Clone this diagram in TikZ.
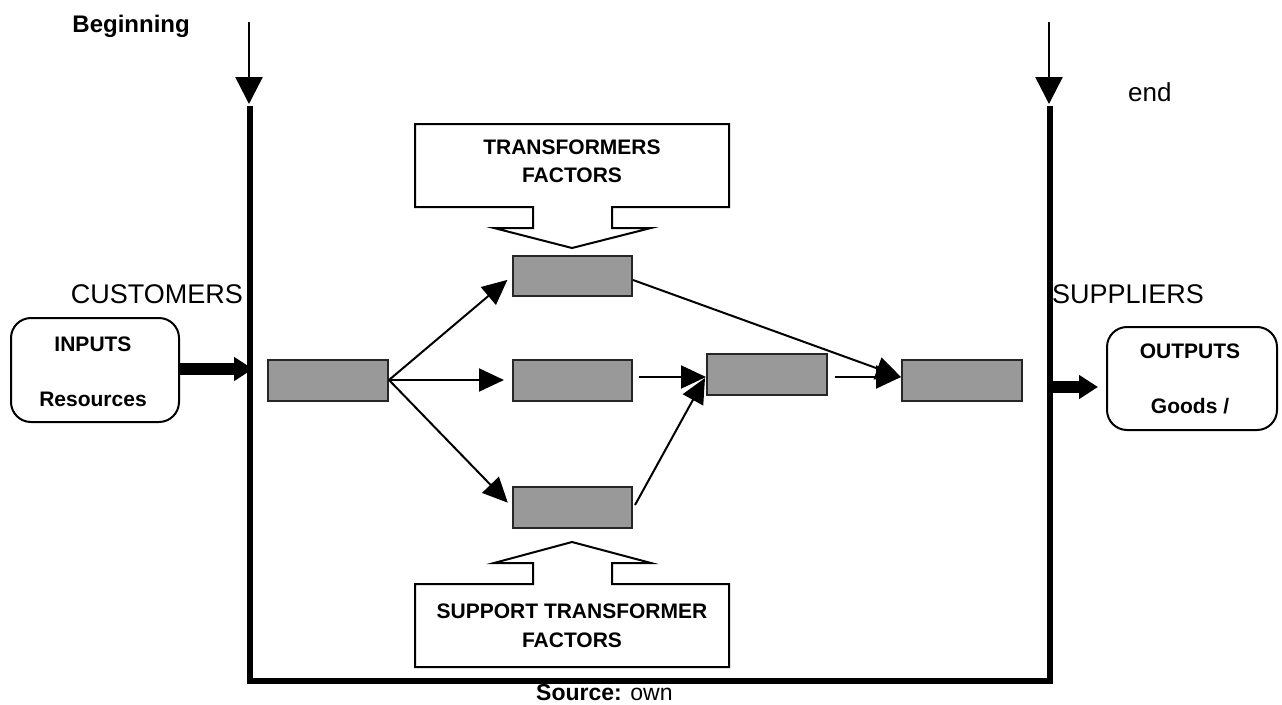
\documentclass[tikz,border=0pt]{standalone}
\usepackage{fontspec}
\setmainfont{Liberation Sans}
\usetikzlibrary{arrows.meta}
\definecolor{boxgray}{HTML}{999999}
\begin{document}
\begin{tikzpicture}[x=1pt,y=-1pt,
  graybox/.style={draw=black!85, line width=2pt, fill=boxgray, inner sep=0pt, minimum width=119pt, minimum height=40pt},
  conn/.style={line width=2pt, -{Triangle[length=25pt,width=23pt]}},
  downarrow/.style={line width=2.5pt, -{Triangle[length=27pt,width=27pt]}},
  thickarrow/.style={line width=12pt, -{Triangle[length=19pt,width=23pt]}},
  callout/.style={draw, line width=2pt, line join=miter},
  roundbox/.style={draw, line width=2pt, rounded corners=20pt, inner sep=0pt},
  boldlabel/.style={font=\fontsize{21}{25}\selectfont\bfseries, anchor=base, inner sep=0pt},
  biglabel/.style={font=\fontsize{27}{32}\selectfont, inner sep=0pt}
]
\useasboundingbox (0,0) rectangle (1282,704);

% frame
\coordinate (Ltop) at (250,106);
\coordinate (Lbot) at (250,681);
\coordinate (Rbot) at (1050,681);
\coordinate (Rtop) at (1050,106);
\draw[line width=6pt, line join=miter] (Ltop) -- (Lbot) -- (Rbot) -- (Rtop);

% top arrows
\coordinate (Lstart) at (249,22);
\coordinate (Ltip) at (249,104);
\coordinate (Rstart) at (1049,22);
\coordinate (Rtip) at (1049,104);
\draw[downarrow] (Lstart) -- (Ltip);
\draw[downarrow] (Rstart) -- (Rtip);

% labels
\node[font=\fontsize{24}{28}\selectfont\bfseries, anchor=base east, inner sep=0pt] (beg) at (190,32) {Beginning};
\node[font=\fontsize{26}{30}\selectfont, anchor=base west, inner sep=0pt] (endl) at (1128,101) {end};
\node[biglabel, anchor=base east] (cust) at (243,303) {CUSTOMERS};
\node[biglabel, anchor=base west] (supp) at (1052,303) {SUPPLIERS};
\node[font=\fontsize{23}{27}\selectfont, anchor=base west, inner sep=0pt] (src) at (536,700) {\textbf{Source:} own};

% gray boxes
\node[graybox, minimum width=120pt, minimum height=41pt] (R0) at (328,380) {};
\node[graybox] (Rt) at (572.5,276) {};
\node[graybox, minimum height=41pt] (Rm) at (572.5,380.5) {};
\node[graybox, minimum height=41pt] (Rb) at (572.5,507) {};
\node[graybox, minimum width=120pt, minimum height=41pt] (R4) at (767,374) {};
\node[graybox, minimum width=120pt, minimum height=41pt] (R5) at (962,380.5) {};

% connectors
\draw[conn, shorten >=6pt] (R0.east) -- (Rt.west);
\draw[conn, shorten >=8pt] (R0.east) -- ([yshift=0.5pt]Rm.west);
\draw[conn, shorten >=6pt] (R0.east) -- (Rb.west);
\draw[conn] ([xshift=6pt,yshift=3.5pt]Rm.east) -- ([yshift=-3pt]R4.west);
\draw[conn] ([xshift=2pt,yshift=2pt]Rb.east) -- ([xshift=-1pt,yshift=-4pt]R4.west);
\draw[conn] ([xshift=7pt,yshift=-3pt]R4.east) -- ([yshift=3.5pt]R5.west);
\draw[conn] ([yshift=-4pt]Rt.east) -- ([yshift=3.5pt]R5.west);

% top callout
\draw[callout] (415,124) -- (729,124) -- (729,207) -- (612,207) -- (612,228) -- (651,228)
  -- (572,248) -- (494,228) -- (533,228) -- (533,207) -- (415,207) -- cycle;
\node[boldlabel] (tf1) at (572,154) {TRANSFORMERS};
\node[boldlabel] (tf2) at (572,182) {FACTORS};

% bottom callout
\draw[callout] (415,667) -- (415,584) -- (533,584) -- (533,563) -- (494,563) -- (572,542)
  -- (651,563) -- (612,563) -- (612,584) -- (729,584) -- (729,667) -- cycle;
\node[boldlabel] (sf1) at (572,618) {SUPPORT TRANSFORMER};
\node[boldlabel] (sf2) at (572,647) {FACTORS};

% inputs
\node[roundbox, minimum width=168pt, minimum height=104pt] (IN) at (95,370) {};
\node[boldlabel] (in1) at (93,351) {INPUTS};
\node[boldlabel] (in2) at (93,406) {Resources};
\coordinate (inEnd) at (253,369);
\draw[thickarrow] (IN.east |- inEnd) -- (inEnd);

% outputs
\node[roundbox, minimum width=170pt, minimum height=103pt] (OUT) at (1192,378.5) {};
\node[boldlabel] (out1) at (1190,358) {OUTPUTS};
\node[boldlabel] (out2) at (1190,413) {Goods /};
\coordinate (outStart) at (1052,387);
\coordinate (outEnd) at (1098,387);
\draw[thickarrow] (outStart) -- (outEnd);
\end{tikzpicture}
\end{document}
